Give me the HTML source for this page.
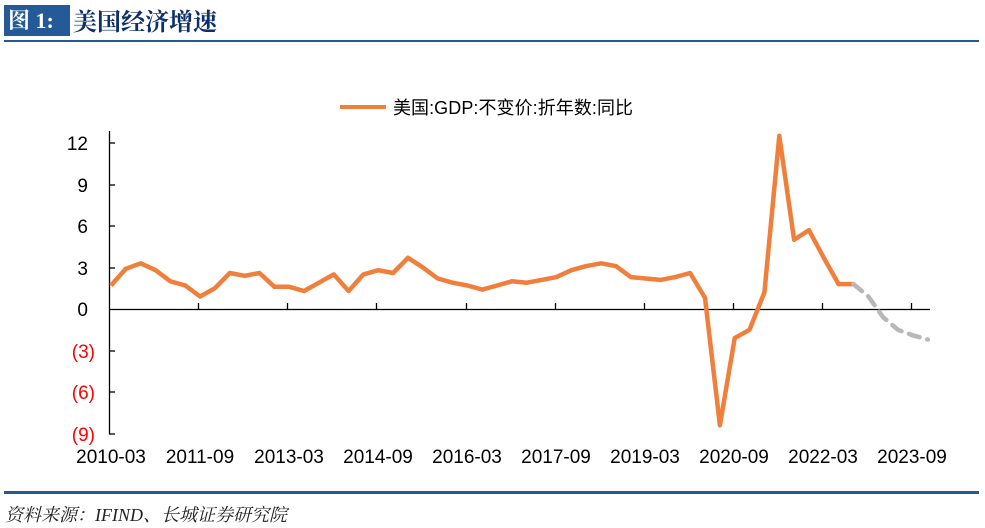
<!DOCTYPE html>
<html><head><meta charset="utf-8"><style>
body{margin:0;background:#fff;width:985px;height:528px;overflow:hidden;position:relative;font-family:"Liberation Sans","Noto Sans CJK SC",sans-serif}
.t1{position:absolute;left:4px;top:5px;width:66px;height:31px;background:#245a97;color:#fff;font:bold 22px "Liberation Serif","Noto Serif CJK SC",serif;line-height:31px;padding-left:4px;box-sizing:border-box}
.t2{position:absolute;left:73px;top:4px;color:#0d2f6b;font:bold 24px "Noto Serif CJK SC",serif;line-height:31px}
.l1{position:absolute;left:4px;top:40px;width:975px;height:2px;background:#245a97}
.l2{position:absolute;left:4px;top:491px;width:975px;height:3px;background:#245a97}
.src{position:absolute;left:5px;top:501px;font:italic 18px "Liberation Serif","Noto Serif CJK SC",serif;color:#222}
</style></head><body>
<div class="t1">图 1:</div><div class="t2">美国经济增速</div><div class="l1"></div>
<svg width="985" height="528" style="position:absolute;left:0;top:0">
<line x1="340" y1="107" x2="386" y2="107" stroke="#f07f3c" stroke-width="4"/>
<text x="393" y="114" font-size="18" font-family="Liberation Sans,Noto Sans CJK SC,sans-serif" textLength="240">美国:GDP:不变价:折年数:同比</text>
<g stroke="#000" stroke-width="1.3">
<line x1="109.5" y1="131" x2="109.5" y2="434"/>
<line x1="109" y1="309.5" x2="930" y2="309.5"/>
<line x1="109" y1="143" x2="115" y2="143"/><line x1="109" y1="185" x2="115" y2="185"/><line x1="109" y1="226" x2="115" y2="226"/><line x1="109" y1="268" x2="115" y2="268"/><line x1="109" y1="351" x2="115" y2="351"/><line x1="109" y1="392" x2="115" y2="392"/><line x1="109" y1="434" x2="115" y2="434"/>
<line x1="198.5" y1="303" x2="198.5" y2="309"/><line x1="287.5" y1="303" x2="287.5" y2="309"/><line x1="376.5" y1="303" x2="376.5" y2="309"/><line x1="466.5" y1="303" x2="466.5" y2="309"/><line x1="555.5" y1="303" x2="555.5" y2="309"/><line x1="644.5" y1="303" x2="644.5" y2="309"/><line x1="733.5" y1="303" x2="733.5" y2="309"/><line x1="822.5" y1="303" x2="822.5" y2="309"/><line x1="911.5" y1="303" x2="911.5" y2="309"/>
</g>
<g font-size="19" text-anchor="end" font-family="Liberation Sans,sans-serif">
<text x="88" y="150">12</text><text x="88" y="192">9</text><text x="88" y="233">6</text><text x="88" y="275">3</text><text x="88" y="316">0</text>
<g fill="#f00"><text x="95" y="358">(3)</text><text x="95" y="399">(6)</text><text x="95" y="441">(9)</text></g>
</g>
<g font-size="19" text-anchor="middle" font-family="Liberation Sans,sans-serif">
<text x="111" y="463">2010-03</text><text x="200" y="463">2011-09</text><text x="289" y="463">2013-03</text><text x="378" y="463">2014-09</text><text x="467" y="463">2016-03</text><text x="556" y="463">2017-09</text><text x="645" y="463">2019-03</text><text x="734" y="463">2020-09</text><text x="823" y="463">2022-03</text><text x="912" y="463">2023-09</text>
</g>
<polyline id="o" fill="none" stroke="#f07f3c" stroke-width="4.5" stroke-linejoin="round" points=""/>
<polyline id="g" fill="none" stroke="#b8b8b8" stroke-width="4.5" stroke-dasharray="11,8" stroke-linecap="round" points=""/>
</svg>
<div class="l2"></div>
<div class="src">资料来源：IFIND、长城证券研究院</div>
<script>
var d=[1.7,2.9,3.3,2.8,2.0,1.7,0.9,1.5,2.6,2.4,2.6,1.6,1.6,1.3,1.9,2.5,1.3,2.5,2.8,2.6,3.7,3.0,2.2,1.9,1.7,1.4,1.7,2.0,1.9,2.1,2.3,2.8,3.1,3.3,3.1,2.3,2.2,2.1,2.3,2.6,0.8,-8.4,-2.1,-1.5,1.2,12.5,5.0,5.7,3.7,1.8,1.8];
var g=[[50,1.8],[51,0.9],[52,-0.6],[53,-1.5],[54,-1.9],[55,-2.2]];
function P(i,v){return (111+i*14.85).toFixed(1)+","+(309-v*13.85).toFixed(1);}
document.getElementById("o").setAttribute("points",d.map(function(v,i){return P(i,v)}).join(" "));
document.getElementById("g").setAttribute("points",g.map(function(p){return P(p[0],p[1])}).join(" "));
</script>
</body></html>
